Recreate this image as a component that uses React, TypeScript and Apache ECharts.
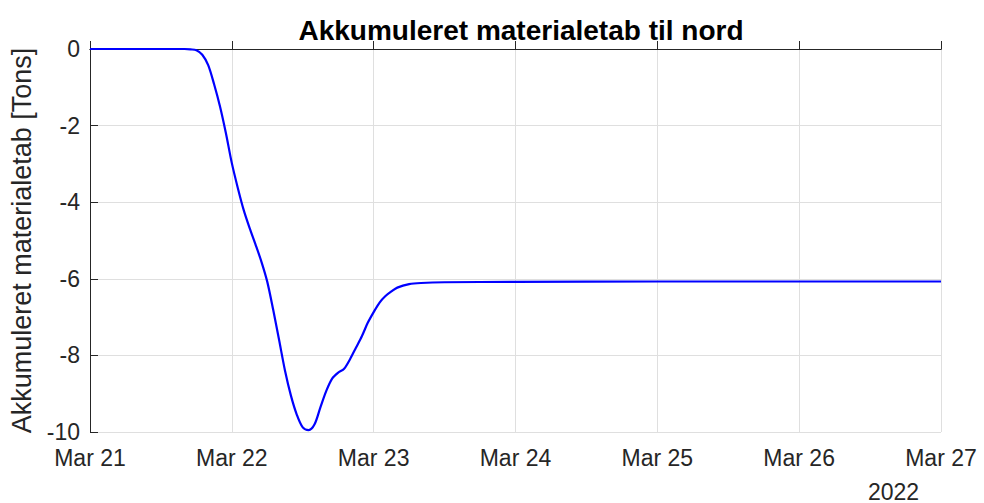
import React, { useEffect, useRef } from "react";
import * as echarts from "echarts";

// Hours since Mar 21 2022 00:00
const hours = [0, 12, 16, 17, 18, 19, 20, 21, 22, 23, 24, 25, 26, 27, 28, 29, 30, 31, 32, 33, 34, 35, 36, 37, 38, 39, 40, 41, 42, 43, 44, 45, 46, 47, 48, 49, 50, 51, 52, 54, 56, 60, 72, 96, 120, 144];
const values = [0, 0, 0, -0.01, -0.03, -0.15, -0.42, -0.92, -1.5, -2.2, -2.98, -3.62, -4.2, -4.67, -5.1, -5.55, -6.08, -6.81, -7.6, -8.4, -9.05, -9.55, -9.88, -9.95, -9.8, -9.35, -8.92, -8.6, -8.45, -8.35, -8.1, -7.8, -7.5, -7.15, -6.87, -6.62, -6.45, -6.33, -6.23, -6.14, -6.11, -6.09, -6.08, -6.07, -6.07, -6.07];
const dayLabels = ["Mar 21", "Mar 22", "Mar 23", "Mar 24", "Mar 25", "Mar 26", "Mar 27"];
const yTicks = [0, -2, -4, -6, -8, -10];
const titleText = "Akkumuleret materialetab til nord";
const yName = "Akkumuleret materialetab [Tons]";
const yearLabel = "2022";

export default function App() {
  const ref = useRef<HTMLDivElement>(null);
  useEffect(() => {
    if (!ref.current) return;
    const chart = echarts.init(ref.current, null, { renderer: "svg" });
    const font = "'Liberation Sans', Arial, Helvetica, sans-serif";
    const axisColor = "#262626";
    const xCommon = { type: "value", min: 0, max: 144, interval: 24 };
    const yCommon = { type: "value", min: -10, max: 0, interval: 2 };
    chart.setOption({
      animation: false,
      backgroundColor: "#ffffff",
      title: {
        text: titleText,
        left: 516,
        textAlign: "center",
        top: 11,
        textStyle: { fontFamily: font, fontSize: 28, fontWeight: "bold", color: "#000" },
      },
      grid: { left: 90, right: 43, top: 49, bottom: 71, containLabel: false },
      xAxis: [
        {
          ...xCommon,
          position: "bottom",
          axisLine: { show: true, lineStyle: { color: axisColor, width: 1 } },
          axisTick: { show: true, inside: true, length: 8, lineStyle: { color: axisColor } },
          axisLabel: {
            show: true,
            margin: 14,
            color: axisColor,
            fontFamily: font,
            fontSize: 23,
            formatter: (v: number) => dayLabels[Math.round(v / 24)] ?? "",
          },
          splitLine: { show: true, lineStyle: { color: "#dfdfdf", width: 1 } },
        },
        {
          ...xCommon,
          position: "top",
          axisLine: { show: true, lineStyle: { color: axisColor, width: 1 } },
          axisTick: { show: true, inside: false, length: 8, lineStyle: { color: axisColor } },
          axisLabel: { show: false },
          splitLine: { show: false },
        },
      ],
      yAxis: [
        {
          ...yCommon,
          position: "left",
          name: yName,
          nameLocation: "middle",
          nameGap: 50,
          nameTextStyle: { fontFamily: font, fontSize: 27, color: axisColor },
          axisLine: { show: true, lineStyle: { color: axisColor, width: 1 } },
          axisTick: { show: true, inside: true, length: 8, lineStyle: { color: axisColor } },
          axisLabel: {
            show: true,
            margin: 10,
            color: axisColor,
            fontFamily: font,
            fontSize: 23,
            formatter: (v: number) => (yTicks.includes(v) ? String(v) : ""),
          },
          splitLine: { show: true, lineStyle: { color: "#dfdfdf", width: 1 } },
        },
        {
          ...yCommon,
          position: "right",
          axisLine: { show: true, lineStyle: { color: axisColor, width: 1 } },
          axisTick: { show: true, inside: false, length: 8, lineStyle: { color: axisColor } },
          axisLabel: { show: false },
          splitLine: { show: false },
        },
      ],
      graphic: [
        {
          type: "text",
          left: 868,
          top: 480,
          style: { text: yearLabel, fontFamily: font, fontSize: 23, fill: axisColor },
        },
      ],
      series: [
        {
          type: "line",
          xAxisIndex: 0,
          yAxisIndex: 0,
          data: hours.map((h, i) => [h, values[i]]),
          smooth: 0.3,
          showSymbol: false,
          lineStyle: { color: "#0000ff", width: 2.2 },
          clip: false,
        },
      ],
    });
    return () => chart.dispose();
  }, []);
  return (
    <div
      ref={ref}
      style={{ position: "fixed", left: 0, top: 0, width: 984, height: 503, background: "#fff" }}
    />
  );
}
